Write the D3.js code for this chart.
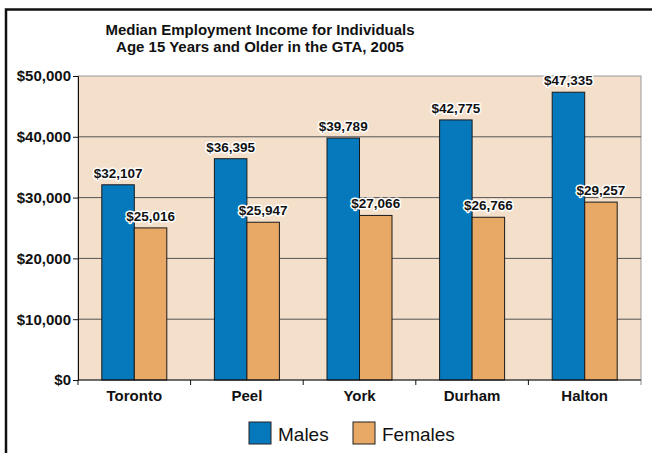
<!DOCTYPE html>
<html>
<head>
<meta charset="utf-8">
<script src="https://cdn.jsdelivr.net/npm/d3@7"></script>
<style>
  body { margin: 0; background: #fff; }
  svg { display: block; font-family: Arial, "Liberation Sans", sans-serif; }
</style>
</head>
<body>
<div id="chart"></div>
<script>
// data
const regions = ["Toronto", "Peel", "York", "Durham", "Halton"];
const series = ["Males", "Females"];
const males = [32107, 36395, 39789, 42775, 47335];
const females = [25016, 25947, 27066, 26766, 29257];
const yTicks = [0, 10000, 20000, 30000, 40000, 50000];
const colors = {Males: "#0679bd", Females: "#e8a866"};

const width = 652, height = 453;
const margin = {top: 76, right: 11, bottom: 73, left: 78};
const plotW = width - margin.left - margin.right,
  plotH = height - margin.top - margin.bottom;

const svg = d3.select("#chart").append("svg")
  .attr("width", width)
  .attr("height", height);

// outer frame (runs off the right and bottom edges)
svg.append("rect")
  .attr("x", 6).attr("y", 9.5)
  .attr("width", 700).attr("height", 500)
  .attr("fill", "none")
  .attr("stroke", "#111")
  .attr("stroke-width", 2.5);

// title
svg.append("text")
  .attr("x", 260).attr("y", 35)
  .attr("text-anchor", "middle")
  .attr("font-size", 15).attr("font-weight", "bold").attr("fill", "#111")
  .selectAll("tspan")
  .data(["Median Employment Income for Individuals", "Age 15 Years and Older in the GTA, 2005"])
  .enter().append("tspan")
    .attr("x", 260)
    .attr("dy", (d, i) => i ? 16.5 : 0)
    .text(d => d);

const g = svg.append("g")
  .attr("transform", `translate(${margin.left}, ${margin.top})`);

const y = d3.scaleLinear().domain([0, 50000]).range([plotH, 0]);
const x0 = d3.scaleBand().domain(regions).range([0, plotW]).padding(0);
const groupW = 65;
const x1 = d3.scaleBand().domain(series)
  .range([(x0.bandwidth() - groupW) / 2, (x0.bandwidth() + groupW) / 2]);

// plot background
g.append("rect")
  .attr("width", plotW).attr("height", plotH)
  .attr("fill", "#f3dfca")
  .attr("stroke", "#9a9a9a");

// gridlines
g.append("g")
  .selectAll("line")
  .data(yTicks.filter(d => d > 0 && d < 50000))
  .enter().append("line")
    .attr("x1", 0).attr("x2", plotW)
    .attr("y1", d => y(d)).attr("y2", d => y(d))
    .attr("stroke", "#555").attr("stroke-width", 1);

// bars
const rows = regions.map((r, i) => ({region: r, Males: males[i], Females: females[i]}));

const groups = g.append("g")
  .selectAll("g")
  .data(rows)
  .enter().append("g")
    .attr("transform", d => `translate(${x0(d.region)}, 0)`);

groups.selectAll("rect")
  .data(d => series.map(s => ({key: s, value: d[s]})))
  .enter().append("rect")
    .attr("x", d => x1(d.key))
    .attr("y", d => y(d.value))
    .attr("width", x1.bandwidth())
    .attr("height", d => plotH - y(d.value))
    .attr("fill", d => colors[d.key])
    .attr("stroke", "#1a1a1a")
    .attr("stroke-width", 1);

// value labels with white halo
const fmt = d3.format("$,");
groups.selectAll("text")
  .data(d => series.map(s => ({key: s, value: d[s]})))
  .enter().append("text")
    .attr("x", d => x1(d.key) + x1.bandwidth() / 2)
    .attr("y", d => y(d.value) - 7)
    .attr("text-anchor", "middle")
    .attr("font-size", 13.5).attr("font-weight", "bold")
    .attr("fill", "#111")
    .attr("stroke", "#fff").attr("stroke-width", 3)
    .attr("paint-order", "stroke")
    .attr("stroke-linejoin", "round")
    .text(d => fmt(d.value));

// y axis
const yAxis = g.append("g")
  .call(d3.axisLeft(y).tickValues(yTicks).tickFormat(fmt).tickSize(5).tickPadding(2));
yAxis.select(".domain").attr("stroke", "#111");
yAxis.selectAll(".tick line").attr("stroke", "#111");
yAxis.selectAll("text")
  .attr("font-size", 15).attr("font-weight", "bold").attr("fill", "#111")
  .attr("font-family", "Arial, 'Liberation Sans', sans-serif");

// x axis: ticks on band boundaries, labels in band middle
const xAxis = g.append("g").attr("transform", `translate(0, ${plotH})`);
xAxis.append("line")
  .attr("x1", 0).attr("x2", plotW)
  .attr("stroke", "#111");
xAxis.selectAll(".sep")
  .data(regions.concat(["end"]))
  .enter().append("line")
    .attr("class", "sep")
    .attr("x1", (d, i) => i * x0.step())
    .attr("x2", (d, i) => i * x0.step())
    .attr("y1", 0).attr("y2", 5)
    .attr("stroke", (d, i) => i === regions.length ? "#888" : "#111");
xAxis.selectAll(".lab")
  .data(regions)
  .enter().append("text")
    .attr("class", "lab")
    .attr("x", d => x0(d) + x0.bandwidth() / 2)
    .attr("y", 21)
    .attr("text-anchor", "middle")
    .attr("font-size", 15).attr("font-weight", "bold").attr("fill", "#111")
    .text(d => d);

// legend
const legend = svg.append("g").attr("transform", "translate(249, 422)");
const legendX = [0, 104];
const item = legend.selectAll("g")
  .data(series)
  .enter().append("g")
    .attr("transform", (d, i) => `translate(${legendX[i]}, 0)`);
item.append("rect")
  .attr("width", 22).attr("height", 22)
  .attr("fill", d => colors[d])
  .attr("stroke", "#222").attr("stroke-width", 1);
item.append("text")
  .attr("x", 29).attr("y", 18.5)
  .attr("font-size", 19).attr("fill", "#111")
  .text(d => d);
</script>
</body>
</html>
